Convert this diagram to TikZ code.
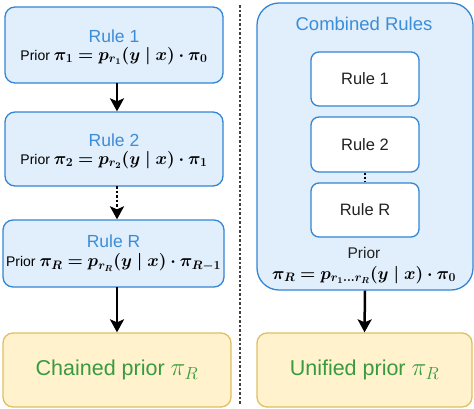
\RequirePackage{fix-cm}
\documentclass[tikz,border=0pt]{standalone}
\usepackage[no-math]{fontspec}
\usepackage{amsmath,bm}
\setmainfont{Liberation Sans}
\usetikzlibrary{arrows.meta}
\definecolor{bfill}{HTML}{E1EEFB}
\definecolor{bdraw}{HTML}{3385D6}
\definecolor{btext}{HTML}{3C8DD8}
\definecolor{yfill}{HTML}{FFF2CC}
\definecolor{ydraw}{HTML}{E0BE62}
\definecolor{gtext}{HTML}{3A9A42}
\definecolor{dtext}{HTML}{222222}
\newcommand{\mfont}{\fontsize{17.5}{19}\selectfont}
\newcommand{\bigmath}{\fontsize{25}{27}\selectfont}
\begin{document}
\begin{tikzpicture}[x=1pt,y=-1pt,
  bluebox/.style={draw=bdraw,fill=bfill,line width=1.3pt,rounded corners=10pt,inner sep=0pt},
  yelbox/.style={draw=ydraw,fill=yfill,line width=1.3pt,rounded corners=10pt,inner sep=0pt,align=center,
     text=gtext,font=\fontsize{21.5}{25}\selectfont},
  whitebox/.style={draw=bdraw,fill=white,line width=1.3pt,rounded corners=8pt,inner sep=0pt,
     minimum width=108pt,minimum height=54pt,text=dtext,font=\fontsize{16.5}{18}\selectfont},
  arr/.style={line width=2.5pt,-{Stealth[width=14pt,length=13pt,inset=3pt]}},
  ttl/.style={text=btext,font=\fontsize{17.5}{19}\selectfont,inner sep=0pt},
  cttl/.style={text=btext,font=\fontsize{18.5}{20}\selectfont},
  lpri/.style={text=black,font=\fontsize{14}{17}\selectfont,inner sep=0pt},
  pri/.style={text=black,font=\fontsize{15.5}{17}\selectfont}
]
\useasboundingbox (0,0) rectangle (474,408);
% left column
\node[bluebox,minimum width=218pt,minimum height=76pt] (r1) at (114,45) {};
\node[ttl] (r1t) at (114,36) {Rule 1};
\node[lpri] (r1p) at (114,56) {Prior {\mfont$\bm{\pi_1 = p_{r_1}(y \mid x)\cdot \pi_0}$}};
\node[bluebox,minimum width=218pt,minimum height=74pt] (r2) at (114,149) {};
\node[ttl] (r2t) at (114,140) {Rule 2};
\node[lpri] (r2p) at (114,160) {Prior {\mfont$\bm{\pi_2 = p_{r_2}(y \mid x)\cdot \pi_1}$}};
\node[bluebox,minimum width=221pt,minimum height=67pt] (rR) at (113.5,253.5) {};
\node[ttl] (rRt) at (113.5,241) {Rule R};
\node[lpri] (rRp) at (113.5,262.5) {Prior {\mfont$\bm{\pi_R = p_{r_R}(y \mid x)\cdot \pi_{R-1}}$}};
\node[yelbox,minimum width=228pt,minimum height=74pt] (ch) at (117,370)
  {Chained prior {\bigmath$\pi_R$}};
\coordinate (a1) at (117,83);
\coordinate (a2) at (117,186);
\coordinate (a3) at (117,287);
\draw[arr] (a1) -- (a1 |- r2.north);
\draw[arr,dotted] (a2) -- (a2 |- rR.north);
\draw[arr] (a3) -- (a3 |- ch.north);
% divider
\coordinate (d1) at (240,5);
\coordinate (d2) at (240,405);
\draw[line width=1.2pt,dash pattern=on 2.5pt off 2pt,color=black!75] (d1) -- (d2);
% right column
\node[bluebox,rounded corners=22pt,minimum width=216pt,minimum height=287pt] (cb) at (365,146.5) {};
\node[cttl] (cbt) at (364,24) {Combined Rules};
\node[whitebox] (w1) at (365,79) {Rule 1};
\node[whitebox,minimum height=55pt] (w2) at (365,144.5) {Rule 2};
\node[whitebox] (wR) at (365,210) {Rule R};
\draw[line width=2pt,dotted] (w2.south) -- (wR.north);
\node[pri,text=dtext] (pt) at (364,253) {Prior};
\node[pri] (pf) at (364,275) {\mfont$\bm{\pi_R = p_{r_1\ldots r_R}(y \mid x)\cdot \pi_0}$};
\node[yelbox,minimum width=215pt,minimum height=74pt] (un) at (364.5,370)
  {Unified prior {\bigmath$\pi_R$}};
\draw[arr] (cb.south) -- (un.north);
\end{tikzpicture}
\end{document}
